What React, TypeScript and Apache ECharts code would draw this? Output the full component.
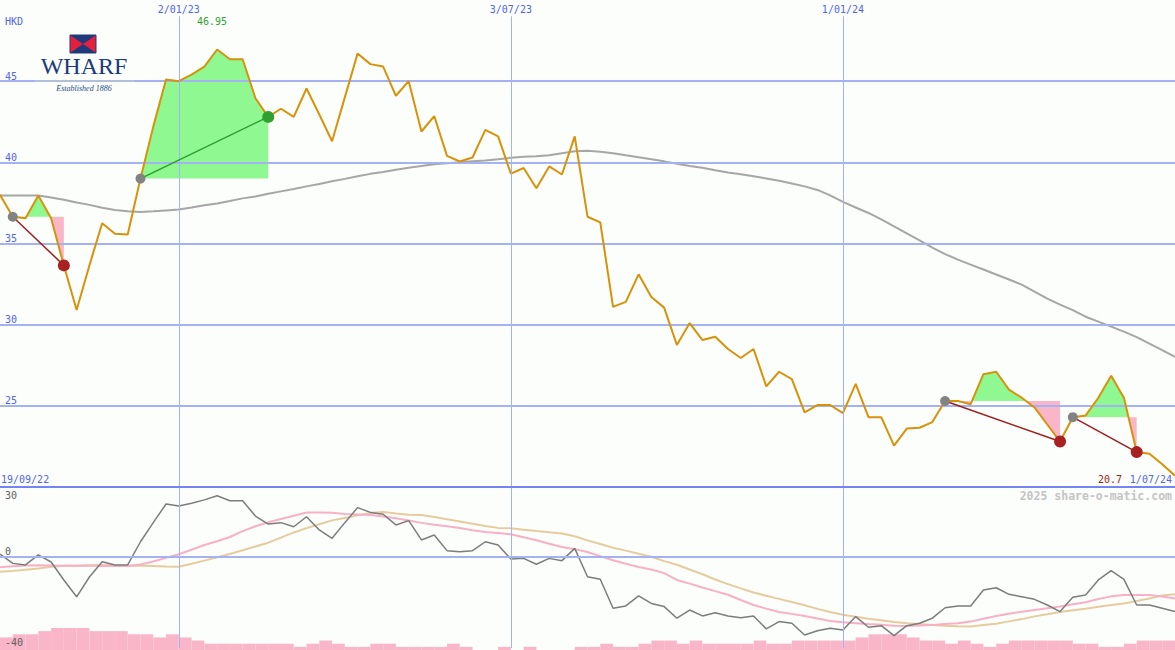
import React, { useEffect, useRef } from 'react';
import * as echarts from 'echarts';

// ---------- data ----------
const WEEK_COUNT = 93;
const START_UTC = Date.UTC(2022, 8, 26);
const categories: string[] = Array.from({ length: WEEK_COUNT }, (_, i) => {
  const d = new Date(START_UTC + i * 7 * 86400000);
  return `${d.getUTCDate()}/${String(d.getUTCMonth() + 1).padStart(2, '0')}/${String(d.getUTCFullYear()).slice(2)}`;
});

const gridDates = ['2/01/23', '3/07/23', '1/01/24'];

const price = [
  38.0, 36.65, 36.55, 37.95, 36.55, 33.65, 30.9, 33.65, 36.25, 35.6,
  35.55, 39.0, 42.2, 45.1, 45.0, 45.4, 45.9, 46.95, 46.35, 46.35,
  43.95, 42.8, 43.3, 42.8, 44.55, 42.95, 41.3, 44.0, 46.7, 46.05,
  45.9, 44.1, 45.0, 41.9, 42.85, 40.4, 40.05, 40.3, 42.0, 41.6,
  39.3, 39.65, 38.4, 39.75, 39.25, 41.6, 36.65, 36.3, 31.1, 31.4,
  33.1, 31.7, 31.05, 28.75, 30.1, 29.05, 29.25, 28.5, 27.95, 28.5,
  26.2, 27.1, 26.65, 24.6, 25.05, 25.05, 24.55, 26.35, 24.3, 24.3,
  22.55, 23.6, 23.65, 24.0, 25.3, 25.3, 25.1, 26.95, 27.1, 26.0,
  25.5, 24.9, 23.85, 22.8, 24.3, 24.4, 25.5, 26.85, 25.5, 22.15,
  22.05, 21.4, 20.7,
];

const priceMA = [
  37.96, 37.96, 37.96, 37.96, 37.84, 37.69, 37.53, 37.38, 37.2, 37.07,
  36.98, 36.94, 36.98, 37.04, 37.1, 37.22, 37.35, 37.47, 37.62, 37.78,
  37.9, 38.06, 38.21, 38.36, 38.52, 38.67, 38.83, 38.98, 39.14, 39.29,
  39.41, 39.54, 39.66, 39.78, 39.88, 39.94, 40.0, 40.06, 40.12, 40.19,
  40.28, 40.34, 40.37, 40.43, 40.56, 40.68, 40.71, 40.65, 40.56, 40.43,
  40.31, 40.19, 40.06, 39.91, 39.78, 39.66, 39.51, 39.38, 39.26, 39.14,
  39.01, 38.86, 38.7, 38.52, 38.3, 37.96, 37.56, 37.22, 36.88, 36.48,
  36.05, 35.62, 35.19, 34.75, 34.35, 34.01, 33.7, 33.4, 33.09, 32.78,
  32.47, 32.04, 31.6, 31.23, 30.9, 30.49, 30.19, 29.88, 29.57, 29.23,
  28.83, 28.43, 28.02,
];

const oscillator = [
  1.3, -2.8, -3.5, 0.9, -2.2, -10.1, -17.5, -8.8, -2.1, -3.5,
  -3.5, 6.7, 15.1, 23.3, 22.4, 23.6, 25.1, 26.9, 24.7, 24.7,
  18.0, 14.5, 15.1, 13.3, 17.7, 11.9, 8.2, 15.1, 21.7, 19.6,
  18.8, 14.1, 16.0, 7.5, 9.7, 2.8, 2.3, 2.8, 6.7, 5.3,
  -0.9, -0.6, -3.2, -0.6, -1.6, 3.8, -8.7, -9.8, -22.5, -21.5,
  -17.1, -20.4, -21.8, -26.9, -23.3, -25.9, -24.5, -25.9, -26.7, -25.9,
  -31.6, -28.4, -29.1, -34.3, -32.4, -31.3, -32.1, -26.2, -30.9, -30.2,
  -34.6, -30.2, -29.1, -26.9, -22.3, -21.5, -21.5, -14.5, -13.5, -16.4,
  -17.5, -18.6, -21.1, -24.0, -17.7, -16.7, -10.1, -6.0, -9.8, -21.1,
  -21.1, -22.5, -24.0,
];

const oscFast = [
  -4.5, -4.1, -3.7, -3.6, -3.7, -3.8, -3.8, -3.9, -4.0, -4.0,
  -4.0, -3.3, -2.0, -0.4, 1.2, 3.2, 5.3, 6.9, 8.8, 11.4,
  13.5, 15.3, 16.7, 18.1, 19.6, 19.6, 19.4, 18.9, 18.7, 18.5,
  17.8, 17.0, 16.0, 15.0, 14.2, 13.5, 12.7, 11.8, 11.0, 10.5,
  10.0, 8.7, 7.4, 5.8, 4.4, 3.4, 2.2, 0.4, -1.4, -3.0,
  -4.4, -5.5, -7.1, -10.1, -11.7, -13.4, -15.0, -16.6, -18.9, -21.1,
  -22.7, -24.2, -25.0, -25.9, -27.0, -28.1, -28.7, -29.1, -29.5, -29.8,
  -30.2, -30.3, -30.1, -29.9, -29.5, -29.1, -28.4, -27.1, -25.9, -24.9,
  -24.1, -23.3, -22.5, -21.8, -20.8, -19.9, -18.5, -17.3, -16.7, -16.7,
  -16.7, -17.4, -18.2,
];

const oscSlow = [
  -6.5, -6.1, -5.6, -5.1, -4.3, -3.9, -3.8, -3.6, -3.5, -3.7,
  -3.8, -3.9, -4.0, -4.2, -4.3, -3.0, -1.6, -0.1, 1.3, 3.0,
  4.6, 6.3, 8.5, 10.8, 12.7, 14.4, 16.1, 17.1, 18.3, 19.4,
  19.8, 19.1, 18.6, 18.5, 17.6, 16.6, 15.6, 14.6, 13.6, 12.8,
  12.6, 12.0, 11.4, 10.9, 10.3, 9.1, 7.3, 5.7, 4.1, 2.8,
  1.4, 0.1, -1.8, -3.4, -5.5, -7.6, -9.9, -11.9, -13.8, -15.6,
  -17.0, -18.4, -19.8, -21.2, -22.8, -24.2, -25.4, -26.3, -27.1, -27.8,
  -28.6, -29.1, -29.5, -29.9, -30.2, -30.4, -30.5, -29.9, -29.3, -28.3,
  -27.3, -26.1, -25.2, -24.2, -23.4, -22.7, -21.9, -21.1, -20.4, -19.3,
  -18.2, -16.9, -16.4,
];

const volumeLevels = [
  4, 5, 5, 6, 7, 7, 7, 6, 6, 6,
  5, 5, 4, 5, 4, 3, 2, 2, 2, 2,
  2, 2, 2, 1, 2, 3, 2, 1, 1, 2,
  2, 1, 1, 1, 1, 2, 1, 0, 0, 1,
  0, 1, 0, 0, 0, 1, 1, 2, 1, 1,
  2, 3, 3, 2, 3, 2, 2, 2, 2, 3,
  2, 2, 3, 3, 3, 3, 3, 4, 5, 5,
  5, 4, 3, 3, 2, 3, 2, 1, 2, 3,
  3, 3, 3, 3, 2, 2, 1, 1, 2, 3,
  3, 3,
];

const trades = [
  { entry: 1, exit: 5 },
  { entry: 11, exit: 21 },
  { entry: 74, exit: 83 },
  { entry: 84, exit: 89 },
];

// ---------- styles ----------
const MONO = '"DejaVu Sans Mono", monospace';
const BG = '#fbfefb';
const BLUE_TXT = '#5464ee';
const GRID_BLUE = '#a4b2f4';
const SEP_BLUE = '#7484f0';
const GREEN_FILL = '#90f890';
const PINK_FILL = '#f9b6c9';
const ORANGE = '#d8920a';

export default function App() {
  const ref = useRef<HTMLDivElement>(null);

  useEffect(() => {
    document.body.style.margin = '0';
    if (!ref.current) return;
    const chart = echarts.init(ref.current, null, { renderer: 'svg' });

    const fillSeries = trades.map((t) => ({
      type: 'line',
      xAxisIndex: 0,
      yAxisIndex: 0,
      symbol: 'none',
      silent: true,
      data: price.slice(t.entry, t.exit + 1).map((v, j) => [t.entry + j, v]),
      lineStyle: { width: 0, opacity: 0 },
      areaStyle: { origin: price[t.entry], opacity: 1 },
      z: 1,
    }));

    const visualMaps = trades.map((t, k) => ({
      type: 'piecewise',
      show: false,
      seriesIndex: k,
      dimension: 1,
      pieces: [
        { min: 0, max: price[t.entry], color: PINK_FILL },
        { min: price[t.entry], max: 100, color: GREEN_FILL },
      ],
    }));

    const tradeSeries = trades.map((t) => {
      const win = price[t.exit] > price[t.entry];
      return {
        type: 'line',
        xAxisIndex: 0,
        yAxisIndex: 0,
        symbol: 'circle',
        showSymbol: true,
        showAllSymbol: true,
        silent: true,
        lineStyle: { color: win ? '#2ca02c' : '#a01c1c', width: 1.5 },
        data: [
          { value: [t.entry, price[t.entry]], symbolSize: 10, itemStyle: { color: '#838383' } },
          { value: [t.exit, price[t.exit]], symbolSize: 12, itemStyle: { color: win ? '#30a030' : '#a82222' } },
        ],
        z: 5,
      };
    });

    const maxPrice = Math.max(...price);
    const lastPrice = price[price.length - 1];

    const option: any = {
      animation: false,
      backgroundColor: BG,
      textStyle: { fontFamily: MONO },
      visualMap: visualMaps,
      grid: [
        { left: 0, right: 0, top: 0, height: 487 },
        { left: 0, right: 0, top: 487, height: 161 },
        { left: 0, right: 0, top: 600, height: 50 },
      ],
      xAxis: [
        {
          gridIndex: 0,
          type: 'category',
          data: categories,
          boundaryGap: false,
          axisLine: { show: false, onZero: false },
          axisTick: { show: false },
          axisLabel: { show: false },
          splitLine: { show: false },
        },
        {
          gridIndex: 1,
          type: 'category',
          data: categories,
          boundaryGap: false,
          position: 'top',
          axisLine: { show: true, onZero: false, lineStyle: { color: SEP_BLUE, width: 2 } },
          axisTick: { show: false },
          axisLabel: { show: false },
          splitLine: {
            show: true,
            interval: (_i: number, v: string) => gridDates.includes(v),
            lineStyle: { color: GRID_BLUE, width: 1 },
          },
          z: 6,
        },
        {
          gridIndex: 2,
          type: 'category',
          data: categories.slice(0, volumeLevels.length),
          boundaryGap: true,
          show: false,
        },
      ],
      yAxis: [
        {
          gridIndex: 0,
          type: 'value',
          min: 20,
          max: 50,
          interval: 5,
          axisLine: { show: false },
          axisTick: { show: false },
          axisLabel: {
            inside: true,
            margin: 5,
            verticalAlign: 'bottom',
            color: BLUE_TXT,
            fontSize: 10,
            fontFamily: MONO,
            formatter: (v: number) => (v > 20 && v < 50 ? String(v) : ''),
          },
          splitLine: {
            show: true,
            showMinLine: false,
            showMaxLine: false,
            lineStyle: { color: GRID_BLUE, width: 2 },
          },
          z: 3,
        },
        {
          gridIndex: 1,
          type: 'value',
          min: -40,
          max: 30.77,
          interval: 10,
          axisLine: { show: false },
          axisTick: { show: false },
          splitLine: { show: false },
          axisLabel: {
            inside: true,
            margin: 5,
            formatter: (v: number) =>
              v === 30 ? `{lo|${v}}` : v === 0 || v === -40 ? `{hi|${v}}` : '',
            rich: {
              lo: { padding: [14, 0, 0, 0], color: '#606060', fontSize: 10, fontFamily: MONO },
              hi: { padding: [0, 0, 12, 0], color: '#606060', fontSize: 10, fontFamily: MONO },
            },
          },
          z: 10,
        },
        {
          gridIndex: 2,
          type: 'value',
          min: 0,
          max: 15.9,
          show: false,
        },
      ],
      series: [
        ...fillSeries,
        {
          name: 'MA',
          type: 'line',
          xAxisIndex: 0,
          yAxisIndex: 0,
          symbol: 'none',
          silent: true,
          data: priceMA,
          lineStyle: { color: '#a6a6a6', width: 2 },
          z: 2,
          markLine: {
            silent: true,
            symbol: ['none', 'none'],
            lineStyle: { color: GRID_BLUE, width: 1, type: 'solid' },
            label: {
              show: true,
              position: 'start',
              distance: 2,
              formatter: '{b}',
              color: BLUE_TXT,
              fontSize: 10,
              fontFamily: MONO,
            },
            data: gridDates.map((d) => [
              { name: d, coord: [d, 49] },
              { coord: [d, 20] },
            ]),
          },
        },
        {
          name: 'Price',
          type: 'line',
          xAxisIndex: 0,
          yAxisIndex: 0,
          symbol: 'none',
          silent: true,
          data: price,
          lineStyle: { color: ORANGE, width: 2 },
          z: 3,
        },
        ...tradeSeries,
        {
          name: 'Volume',
          type: 'bar',
          xAxisIndex: 2,
          yAxisIndex: 2,
          silent: true,
          data: volumeLevels,
          barWidth: '100%',
          barCategoryGap: 0,
          itemStyle: { color: PINK_FILL },
          z: 1,
        },
        {
          name: 'Slow',
          type: 'line',
          xAxisIndex: 1,
          yAxisIndex: 1,
          symbol: 'none',
          silent: true,
          data: oscSlow,
          lineStyle: { color: '#e6cb9e', width: 2 },
          z: 2,
          markLine: {
            silent: true,
            symbol: ['none', 'none'],
            label: { show: false },
            lineStyle: { color: GRID_BLUE, width: 2, type: 'solid' },
            data: [{ yAxis: 0 }],
          },
        },
        {
          name: 'Fast',
          type: 'line',
          xAxisIndex: 1,
          yAxisIndex: 1,
          symbol: 'none',
          silent: true,
          data: oscFast,
          lineStyle: { color: '#f8b0c6', width: 2 },
          z: 3,
        },
        {
          name: 'Osc',
          type: 'line',
          xAxisIndex: 1,
          yAxisIndex: 1,
          symbol: 'none',
          silent: true,
          data: oscillator,
          lineStyle: { color: '#7c7c7c', width: 1.5 },
          z: 4,
        },
      ],
      graphic: {
        elements: [
          { type: 'rect', shape: { x: 35, y: 28, width: 100, height: 68 }, style: { fill: BG }, z: 20 },
          { type: 'rect', shape: { x: 70, y: 35, width: 26, height: 18 }, style: { fill: '#e4203c', stroke: '#1c3a7c', lineWidth: 1 }, z: 21 },
          { type: 'polygon', shape: { points: [[70, 35], [96, 35], [83, 44]] }, style: { fill: '#1c3a7c' }, z: 22 },
          { type: 'polygon', shape: { points: [[70, 53], [96, 53], [83, 44]] }, style: { fill: '#1c3a7c' }, z: 22 },
          {
            type: 'text', x: 84, y: 66, z: 22,
            style: { text: 'WHARF', fill: '#1c3a7c', font: '24px "Liberation Serif", serif', align: 'center', verticalAlign: 'middle' },
          },
          { type: 'line', shape: { x1: 35, y1: 81, x2: 135, y2: 81 }, style: { stroke: '#6a80b8', lineWidth: 1 }, z: 22 },
          {
            type: 'text', x: 84, y: 88, z: 22,
            style: { text: 'Established 1886', fill: '#2a4a8a', font: 'italic 8px "Liberation Serif", serif', align: 'center', verticalAlign: 'middle' },
          },
          {
            type: 'text', x: 5, y: 21, z: 22,
            style: { text: 'HKD', fill: BLUE_TXT, font: `10px ${MONO}`, align: 'left', verticalAlign: 'middle' },
          },
          {
            type: 'text', x: 212, y: 21, z: 22,
            style: { text: String(maxPrice), fill: '#30a030', font: `10px ${MONO}`, align: 'center', verticalAlign: 'middle' },
          },
          {
            type: 'text', x: 1, y: 479, z: 22,
            style: { text: '19/09/22', fill: BLUE_TXT, font: `10px ${MONO}`, align: 'left', verticalAlign: 'middle' },
          },
          {
            type: 'text', x: 1122, y: 479, z: 22,
            style: { text: String(lastPrice), fill: '#a01c1c', font: `10px ${MONO}`, align: 'right', verticalAlign: 'middle' },
          },
          {
            type: 'text', x: 1172, y: 479, z: 22,
            style: { text: categories[categories.length - 1], fill: BLUE_TXT, font: `10px ${MONO}`, align: 'right', verticalAlign: 'middle' },
          },
          {
            type: 'text', x: 1172, y: 496, z: 22,
            style: { text: '2025 share-o-matic.com', fill: '#c4c4c4', font: `bold 11.5px ${MONO}`, align: 'right', verticalAlign: 'middle' },
          },
        ],
      },
    };

    chart.setOption(option);
    return () => chart.dispose();
  }, []);

  return <div ref={ref} style={{ width: 1175, height: 650 }} />;
}
